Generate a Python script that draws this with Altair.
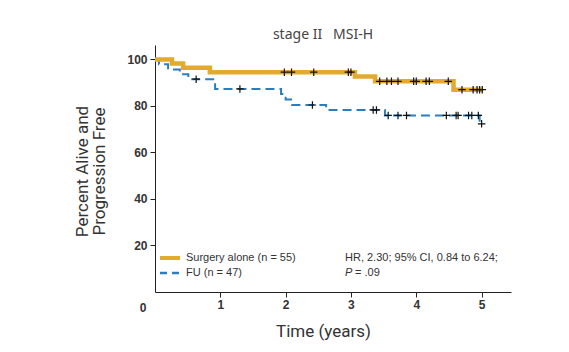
import altair as alt
import pandas as pd

# Kaplan-Meier steps
surg_t = [0, 0.26, 0.43, 0.84, 3.06, 3.37, 4.57, 5.02]
surg_v = [100, 98.2, 96.4, 94.5, 92.7, 90.6, 87.0, 87.0]
surg_cens = [1.98, 2.09, 2.43, 2.96, 3.0, 3.44, 3.55, 3.62, 3.72, 3.96, 4.0,
             4.15, 4.2, 4.49, 4.70, 4.87, 4.93, 4.97, 5.01]

fu_t = [0, 0.06, 0.2, 0.38, 0.51, 0.92, 1.93, 2.0, 2.1, 2.62, 3.52, 4.97, 5.0]
fu_v = [100, 97.9, 95.7, 93.6, 91.5, 87.3, 85.1, 82.8, 80.4, 78.3, 75.9, 72.3, 72.3]
fu_cens = [0.63, 1.3, 2.41, 3.34, 3.39, 3.57, 3.72, 3.85, 4.46, 4.61, 4.64,
           4.80, 4.85, 4.95, 5.0]

x_ticks = [1, 2, 3, 4, 5]
y_ticks = [20, 40, 60, 80, 100]

legend_labels = ["Surgery alone (n = 55)", "FU (n = 47)"]
stat_line1 = "HR, 2.30; 95% CI, 0.84 to 6.24;"
stat_p = "P"
stat_p_rest = "= .09"

GOLD = "#E2AA2E"
BLUE = "#2A7EC0"
LABEL_FONT = "Liberation Sans"
NARROW = "Roboto"


def step_value(times, vals, t):
    v = vals[0]
    for ti, vi in zip(times, vals):
        if ti <= t:
            v = vi
    return v


surg_df = pd.DataFrame({"t": surg_t, "v": surg_v})
fu_df = pd.DataFrame({"t": fu_t, "v": fu_v})
cens_df = pd.DataFrame({
    "t": surg_cens + fu_cens,
    "v": [step_value(surg_t, surg_v, c) for c in surg_cens]
    + [step_value(fu_t, fu_v, c) for c in fu_cens],
})

xscale = alt.Scale(domain=[0, 5.45], nice=False)
yscale = alt.Scale(domain=[0, 106.2], nice=False)

x_axis = alt.Axis(values=x_ticks, title="Time (years)", grid=False,
                  domainColor="#222", tickColor="#222", tickSize=5,
                  labelPadding=2, labelFont=LABEL_FONT, labelFontSize=12,
                  labelColor="#333", labelFontWeight="bold",
                  titleFont=NARROW, titleFontSize=17, titleColor="#333",
                  titleFontWeight="normal", titleX=168, titleY=31,
                  titleAlign="center", titleBaseline="top")
y_axis = alt.Axis(values=y_ticks, title=["Percent Alive and", "Progression Free"],
                  grid=False, domainColor="#222", tickColor="#222", tickSize=5,
                  labelPadding=3, labelFont=LABEL_FONT, labelFontSize=12,
                  labelColor="#333", labelFontWeight="bold",
                  titleFont=NARROW, titleFontSize=17, titleColor="#333",
                  titleFontWeight="normal", titleX=-81, titleY=126,
                  titleAngle=-90, titleAlign="center", titleBaseline="top",
                  titleLineHeight=17)

X = alt.X("t:Q", scale=xscale, axis=x_axis)
Y = alt.Y("v:Q", scale=yscale, axis=y_axis)

fu_line = alt.Chart(fu_df).mark_line(
    interpolate="step-after", color=BLUE, strokeWidth=2, strokeDash=[9, 5]
).encode(x=X, y=Y)

surg_line = alt.Chart(surg_df).mark_line(
    interpolate="step-after", color=GOLD, strokeWidth=4.5
).encode(x=X, y=Y)

cens = alt.Chart(cens_df).mark_point(
    shape="M-1,0L1,0M0,-1L0,1", filled=False, color="#111", strokeWidth=1.2,
    size=56, opacity=1
).encode(x=X, y=Y)


def txt(s, x, y, **kw):
    style = dict(font=LABEL_FONT, fontSize=11, color="#333", align="left",
                 baseline="middle")
    style.update(kw)
    return alt.Chart(pd.DataFrame({"s": [s]})).mark_text(**style).encode(
        x=alt.value(x), y=alt.value(y), text="s:N")


zero_lbl = txt("0", -12, 263, fontSize=12, fontWeight="bold", align="center")

leg_gold = alt.Chart(pd.DataFrame({"s": [legend_labels[0]]})).mark_rule(
    color=GOLD, strokeWidth=4
).encode(x=alt.value(5), x2=alt.value(25), y=alt.value(213))
leg_blue = alt.Chart(pd.DataFrame({"s": [legend_labels[1]]})).mark_rule(
    color=BLUE, strokeWidth=2.5, strokeDash=[7, 5]
).encode(x=alt.value(5), x2=alt.value(25), y=alt.value(228))

leg_t1 = txt(legend_labels[0], 31, 213)
leg_t2 = txt(legend_labels[1], 31, 228)
hr_text = txt(stat_line1, 190, 213)
p_text = txt(stat_p, 190, 228, fontStyle="italic")
p_rest = txt(stat_p_rest, 200, 228)

chart = alt.layer(
    fu_line, surg_line, cens, zero_lbl, leg_gold, leg_blue, leg_t1, leg_t2,
    hr_text, p_text, p_rest
).properties(
    width=356, height=247,
    background="white",
    title=alt.TitleParams("stage II\u00a0\u00a0\u00a0MSI-H", font="Noto Sans",
                          fontSize=14, fontWeight="normal", color="#444",
                          anchor="middle", dx=-10, offset=3),
    autosize=alt.AutoSizeParams(type="none"),
    padding={"left": 147, "top": 37, "right": 50, "bottom": 52},
).configure_view(strokeWidth=0, stroke="transparent")

chart.save("out.html", embed_options={"renderer": "svg", "actions": False})
